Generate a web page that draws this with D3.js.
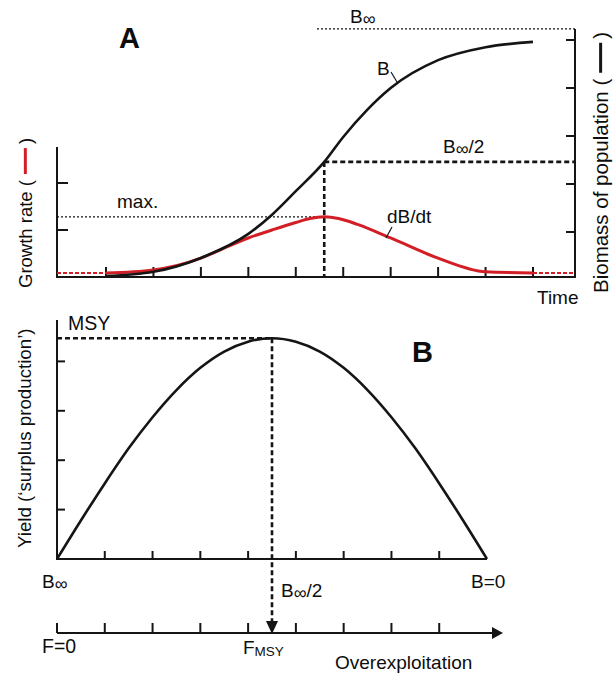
<!DOCTYPE html>
<html>
<head>
<meta charset="utf-8">
<script src="https://cdn.jsdelivr.net/npm/d3@7"></script>
<style>
  body { margin: 0; background: #fff; }
  text { font-family: "Liberation Sans", Arial, Helvetica, sans-serif; fill: #0d0d0d; }
</style>
</head>
<body>
<script>
// ---- panel A : biomass B and growth rate dB/dt over time
var timeTicks    = [1, 2, 3, 4, 5, 6, 7, 8, 9, 10];
var biomassTicks = [1, 2, 3, 4, 5];
var rateTicks    = [1, 2];

var bTime  = [1, 2, 3, 4, 4.5, 5, 5.6, 6, 6.5, 7, 8, 9, 10];
var bValue = [0.08, 0.17, 0.46, 0.96, 1.36, 1.85, 2.46, 2.98, 3.54, 4.0, 4.58, 4.85, 4.96];

var rateTime  = [1, 2, 3, 3.5, 4, 4.5, 5, 5.3, 5.6, 5.9, 6.3, 7, 8, 9, 10];
var rateValue = [0.085, 0.15, 0.40, 0.62, 0.83, 1.0, 1.16, 1.245, 1.28, 1.245, 1.12, 0.83, 0.40, 0.11, 0.085];

var bInf = 5.23, bHalf = 2.46, tHalf = 5.6, rateMax = 1.28, rateBase = 0.085;

// ---- panel B : yield ("surplus production") against biomass / fishing effort
var yieldX = [0, 0.5, 1, 1.5, 2, 2.5, 3, 3.5, 4, 4.5, 5, 5.5, 6, 6.5, 7, 7.5, 8, 8.5, 9];
var yieldV = [0, 0.78, 1.53, 2.24, 2.87, 3.42, 3.87, 4.20, 4.40, 4.47, 4.40, 4.20, 3.87, 3.42, 2.87, 2.24, 1.53, 0.78, 0];
var yieldTicks    = [1, 2, 3, 4];
var biomassBTicks = [1, 2, 3, 4, 5, 6, 7, 8];
var effortTicks   = [0, 1, 2, 3, 4, 5, 6, 7, 8];
var msy = 4.47, fMsy = 4.5;

var W = 613, H = 674;
var ink = "#151515", red = "#d21f26";

var svg = d3.select("body").append("svg")
    .attr("width", W)
    .attr("height", H);

// scales
var xA    = d3.scaleLinear().domain([1, 10]).range([106, 533]);
var yRate = d3.scaleLinear().domain([0, 2]).range([277, 183]);
var yBio  = d3.scaleLinear().domain([0, 5]).range([280, 40]);
var xB    = d3.scaleLinear().domain([0, 9]).range([57, 487]);
var yY    = d3.scaleLinear().domain([0, 5]).range([559, 312]);

var aLeft = 57, aRight = 575, aBase = yRate(0);
var fAxisY = 633;

function line(x1, y1, x2, y2, opts) {
    opts = opts || {};
    return svg.append("line")
        .attr("x1", x1).attr("y1", y1).attr("x2", x2).attr("y2", y2)
        .attr("stroke", opts.color || ink)
        .attr("stroke-width", opts.w || 2)
        .attr("stroke-dasharray", opts.dash || null);
}

function label(x, y, str, size, opts) {
    opts = opts || {};
    return svg.append("text")
        .attr("x", x).attr("y", y)
        .attr("font-size", size)
        .attr("font-weight", opts.bold ? "bold" : null)
        .attr("text-anchor", opts.anchor || "start")
        .text(str);
}

// "B∞" style label with the infinity sign sitting a bit low
function infLabel(x, y, size, tail) {
    var t = svg.append("text").attr("x", x).attr("y", y).attr("font-size", size);
    t.append("tspan").text("B");
    t.append("tspan").attr("font-size", size - 1).attr("dy", 1.5).text("\u221E");
    if (tail) t.append("tspan").attr("dy", -1.5).text(tail);
    return t;
}

function rotLabel(x, y, str, size, barColor, barLen) {
    var g = svg.append("g").attr("transform", "translate(" + x + "," + y + ") rotate(-90)");
    var t = g.append("text").attr("font-size", size).text(str);
    if (!barColor) return;
    var w = t.node().getComputedTextLength();
    g.append("line")
        .attr("x1", w + 6).attr("x2", w + 6 + barLen)
        .attr("y1", -size * 0.36).attr("y2", -size * 0.36)
        .attr("stroke", barColor).attr("stroke-width", 3);
    g.append("text").attr("font-size", size).attr("x", w + 10 + barLen).text(")");
}

// ================= PANEL A =================
line(aLeft, 147, aLeft, aBase);
line(aLeft - 1, aBase, aRight + 1, aBase);
line(aRight, yBio(bInf), aRight, aBase);

timeTicks.forEach(function(t) { line(xA(t), aBase, xA(t), aBase - 10); });
rateTicks.forEach(function(v) { line(aLeft, yRate(v), aLeft + 11, yRate(v)); });
biomassTicks.forEach(function(v) { line(aRight, yBio(v), aRight - 9, yBio(v)); });

// reference lines
line(317, yBio(bInf), aRight, yBio(bInf), { w: 1.2, dash: "2,2" });
line(aLeft, yRate(rateMax), xA(tHalf), yRate(rateMax), { w: 1.2, dash: "2,2" });
line(xA(tHalf), yBio(bHalf), aRight, yBio(bHalf), { w: 2.6, dash: "5,3" });
line(xA(tHalf), yBio(bHalf), xA(tHalf), aBase, { w: 2.6, dash: "5,3" });

// red dashed continuation of dB/dt
line(aLeft, yRate(rateBase), xA(1), yRate(rateBase), { color: red, w: 2, dash: "4,2" });
line(xA(10), yRate(rateBase), aRight, yRate(rateBase), { color: red, w: 2, dash: "4,2" });

// curves
var rateLine = d3.line()
    .x(function(d, i) { return xA(rateTime[i]); })
    .y(function(d) { return yRate(d); })
    .curve(d3.curveMonotoneX);
svg.append("path").attr("d", rateLine(rateValue))
    .attr("fill", "none").attr("stroke", red).attr("stroke-width", 3);

var bLine = d3.line()
    .x(function(d, i) { return xA(bTime[i]); })
    .y(function(d) { return yBio(d); })
    .curve(d3.curveMonotoneX);
svg.append("path").attr("d", bLine(bValue))
    .attr("fill", "none").attr("stroke", ink).attr("stroke-width", 2.6);

// labels
label(119, 48, "A", 29, { bold: true });
infLabel(350, 23, 19);
label(377, 75, "B", 19);
line(391, 72, 397, 82, { w: 1.2 });
infLabel(443, 153, 19, "/2");
label(117, 208, "max.", 19);
label(387, 223, "dB/dt", 19);
line(392, 227, 386, 238, { w: 1.2 });
label(537, 304, "Time", 19);

rotLabel(32, 288, "Growth rate (", 18.5, red, 26);
rotLabel(608, 293, "Biomass of population (", 20.5, ink, 30);

// ================= PANEL B =================
line(xB(0), 320, xB(0), yY(0));
line(xB(0) - 1, yY(0), xB(9), yY(0));
yieldTicks.forEach(function(v) { line(xB(0), yY(v), xB(0) + 8, yY(v)); });
biomassBTicks.forEach(function(v) { line(xB(v), yY(0), xB(v), yY(0) - 8); });

line(xB(0), yY(msy), xB(fMsy), yY(msy), { w: 2.6, dash: "5,3" });
line(xB(fMsy), yY(msy), xB(fMsy), fAxisY - 11, { w: 2.6, dash: "5,3" });
svg.append("path")
    .attr("d", "M" + (xB(fMsy) - 6) + "," + (fAxisY - 12) + "L" + (xB(fMsy) + 6) + "," + (fAxisY - 12) +
               "L" + xB(fMsy) + "," + (fAxisY + 1) + "Z")
    .attr("fill", ink);

var yieldLine = d3.line()
    .x(function(d, i) { return xB(yieldX[i]); })
    .y(function(d) { return yY(d); })
    .curve(d3.curveMonotoneX);
svg.append("path").attr("d", yieldLine(yieldV))
    .attr("fill", "none").attr("stroke", ink).attr("stroke-width", 2.6);

// effort axis with arrow
line(xB(0), fAxisY, 494, fAxisY);
effortTicks.forEach(function(v) { line(xB(v), fAxisY, xB(v), fAxisY - 10); });
svg.append("path")
    .attr("d", "M492," + (fAxisY - 6) + "L503," + fAxisY + "L492," + (fAxisY + 6) + "Z")
    .attr("fill", ink);

label(68, 330, "MSY", 19.5);
label(412, 362, "B", 29, { bold: true });
infLabel(42, 588, 19);
infLabel(281, 597, 19, "/2");
label(471, 588, "B=0", 19);
label(42, 653, "F=0", 19.5);
var fm = svg.append("text").attr("x", 243).attr("y", 654).attr("font-size", 19);
fm.append("tspan").text("F");
fm.append("tspan").attr("font-size", 13.5).attr("dy", 2).text("MSY");
label(335, 669, "Overexploitation", 19);

rotLabel(31, 548, "Yield (\u2018surplus production\u2019)", 18.7);
</script>
</body>
</html>
